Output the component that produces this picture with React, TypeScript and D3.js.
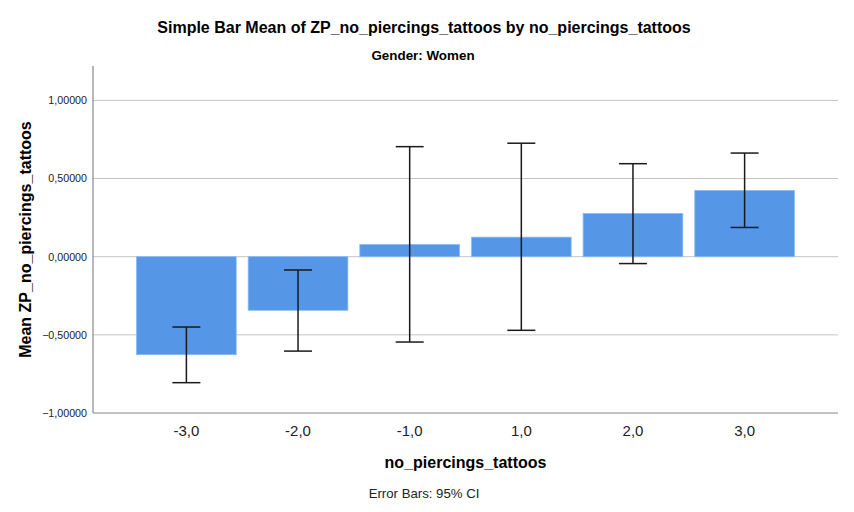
import { useRef, useEffect } from "react";
import * as d3 from "d3";

const categories = ["-3,0", "-2,0", "-1,0", "1,0", "2,0", "3,0"];
const means = [-0.627, -0.343, 0.078, 0.125, 0.277, 0.424];
const ciLow = [-0.806, -0.604, -0.546, -0.471, -0.044, 0.187];
const ciHigh = [-0.45, -0.085, 0.704, 0.726, 0.595, 0.663];
const yTicks = [-1, -0.5, 0, 0.5, 1];

const WIDTH = 854;
const HEIGHT = 512;
const FONT = "Arial, 'Liberation Sans', sans-serif";

export default function App() {
  const svgRef = useRef<SVGSVGElement>(null);

  useEffect(() => {
    const svg = svgRef.current;
    if (!svg) return;
    d3.select(svg).selectAll("*").remove();

    const plot = { left: 93, right: 838, top: 66, bottom: 413 };

    const x = d3
      .scaleBand<string>()
      .domain(categories)
      .range([plot.left, plot.right])
      .paddingInner(0.107)
      .paddingOuter(0.39);

    const y = d3.scaleLinear().domain([-1, 1.22]).range([plot.bottom, plot.top]);

    const root = d3.select(svg);

    // Titles
    root
      .append("text")
      .attr("x", 424)
      .attr("y", 33)
      .attr("text-anchor", "middle")
      .attr("font-family", FONT)
      .attr("font-weight", "bold")
      .attr("font-size", "16px")
      .attr("fill", "#000")
      .text("Simple Bar Mean of ZP_no_piercings_tattoos by no_piercings_tattoos");

    root
      .append("text")
      .attr("x", 423)
      .attr("y", 60)
      .attr("text-anchor", "middle")
      .attr("font-family", FONT)
      .attr("font-weight", "bold")
      .attr("font-size", "13.4px")
      .attr("fill", "#000")
      .text("Gender: Women");

    // Grid lines
    root
      .append("g")
      .selectAll("line")
      .data(yTicks.filter((d) => d > -1))
      .join("line")
      .attr("x1", plot.left)
      .attr("x2", plot.right)
      .attr("y1", (d) => y(d))
      .attr("y2", (d) => y(d))
      .attr("stroke", "#c4c4c4")
      .attr("stroke-width", 1);

    // Y axis
    const yAxis = root
      .append("g")
      .attr("transform", `translate(${plot.left},0)`)
      .call(
        d3
          .axisLeft(y)
          .tickValues(yTicks)
          .tickSize(0)
          .tickPadding(6)
          .tickFormat((d) => d3.format(".5f")(d as number).replace(".", ","))
      );
    yAxis.select(".domain").remove();
    yAxis
      .selectAll(".tick text")
      .attr("font-family", FONT)
      .attr("font-size", "10.7px")
      .attr("fill", "#222");

    // Bars
    root
      .append("g")
      .selectAll("rect")
      .data(categories)
      .join("rect")
      .attr("x", (d) => x(d)!)
      .attr("width", x.bandwidth())
      .attr("y", (_, i) => Math.min(y(means[i]), y(0)))
      .attr("height", (_, i) => Math.abs(y(means[i]) - y(0)))
      .attr("fill", "#5596e6")
      .attr("stroke", "#8dbaf0")
      .attr("stroke-width", 0.8);

    // Axis lines
    root
      .append("line")
      .attr("x1", plot.left)
      .attr("x2", plot.left)
      .attr("y1", plot.top)
      .attr("y2", plot.bottom)
      .attr("stroke", "#888")
      .attr("stroke-width", 1.2);
    root
      .append("line")
      .attr("x1", plot.left)
      .attr("x2", plot.right)
      .attr("y1", plot.bottom)
      .attr("y2", plot.bottom)
      .attr("stroke", "#888")
      .attr("stroke-width", 1.2);

    // Error bars
    const eb = root
      .append("g")
      .attr("stroke", "#1a1a1a")
      .attr("stroke-width", 1.5)
      .selectAll("g")
      .data(categories)
      .join("g")
      .attr("transform", (d) => `translate(${x(d)! + x.bandwidth() / 2},0)`);
    const cap = 14;
    eb.append("line")
      .attr("y1", (_, i) => y(ciLow[i]))
      .attr("y2", (_, i) => y(ciHigh[i]));
    eb.append("line")
      .attr("x1", -cap)
      .attr("x2", cap)
      .attr("y1", (_, i) => y(ciHigh[i]))
      .attr("y2", (_, i) => y(ciHigh[i]));
    eb.append("line")
      .attr("x1", -cap)
      .attr("x2", cap)
      .attr("y1", (_, i) => y(ciLow[i]))
      .attr("y2", (_, i) => y(ciLow[i]));

    // X axis labels
    const xAxis = root
      .append("g")
      .attr("transform", `translate(0,${plot.bottom})`)
      .call(d3.axisBottom(x).tickSize(0).tickPadding(12));
    xAxis.select(".domain").remove();
    xAxis
      .selectAll(".tick text")
      .attr("font-family", FONT)
      .attr("font-size", "15px")
      .attr("fill", "#222");

    // Axis titles
    root
      .append("text")
      .attr("x", (plot.left + plot.right) / 2)
      .attr("y", 468)
      .attr("text-anchor", "middle")
      .attr("font-family", FONT)
      .attr("font-weight", "bold")
      .attr("font-size", "16px")
      .attr("fill", "#000")
      .text("no_piercings_tattoos");

    root
      .append("text")
      .attr("transform", "rotate(-90)")
      .attr("x", -(plot.top + plot.bottom) / 2)
      .attr("y", 31)
      .attr("text-anchor", "middle")
      .attr("font-family", FONT)
      .attr("font-weight", "bold")
      .attr("font-size", "16px")
      .attr("fill", "#000")
      .text("Mean ZP_no_piercings_tattoos");

    root
      .append("text")
      .attr("x", 424)
      .attr("y", 498)
      .attr("text-anchor", "middle")
      .attr("font-family", FONT)
      .attr("font-size", "13.2px")
      .attr("fill", "#222")
      .text("Error Bars: 95% CI");
  }, []);

  return (
    <svg
      ref={svgRef}
      width={WIDTH}
      height={HEIGHT}
      style={{ position: "absolute", left: 0, top: 0, background: "#fff" }}
    />
  );
}
